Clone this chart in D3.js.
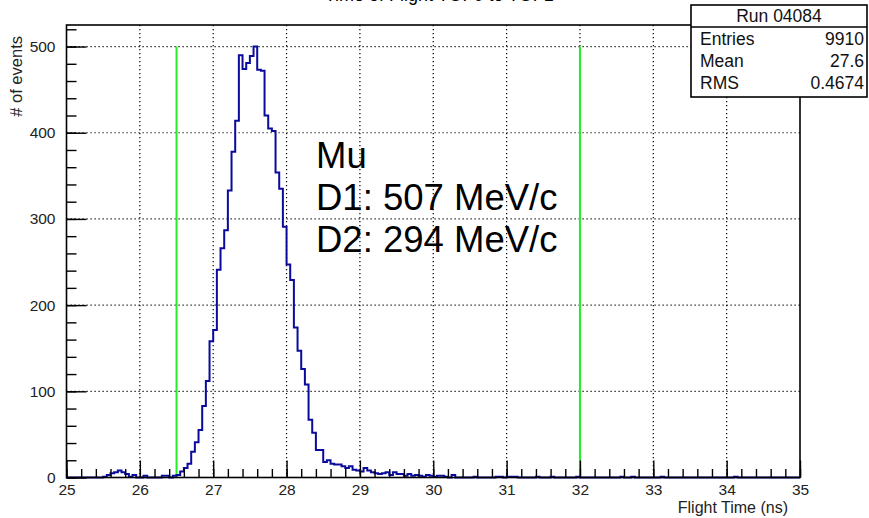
<!DOCTYPE html>
<html>
<head>
<meta charset="utf-8">
<script src="https://cdn.jsdelivr.net/npm/d3@7"></script>
<style>
  html, body { margin: 0; padding: 0; background: #fff; }
  svg { display: block; font-family: "Liberation Sans", Arial, Helvetica, sans-serif; }
</style>
</head>
<body>
<svg id="chart" width="869" height="518"></svg>
<script>
// ---- data ----
const xRange = [25, 35];          // flight time axis (ns)
const yRange = [0, 525];          // counts axis
const binWidth = 0.05;            // ns per bin, 200 bins
const counts = [
  0, 0, 0, 0, 0, 0, 0, 0, 0, 0,   1, 3, 5, 6, 8, 6, 4, 1, 3, 0,
  0, 2, 0, 0, 0, 0, 2, 2, 0, 2,   3, 7, 11, 16, 30, 41, 55, 83, 112, 158,
  171, 241, 266, 287, 333, 378, 414, 490, 474, 481,   489, 500, 473, 472, 420, 405, 402, 354, 335, 291,
  247, 229, 174, 147, 126, 108, 67, 52, 32, 32,   18, 20, 16, 15, 15, 13, 11, 13, 9, 8,
  7, 11, 8, 6, 5, 4, 5, 6, 3, 6,   4, 4, 2, 4, 2, 3, 2, 1, 3, 2,
  1, 2, 2, 1, 0, 3, 0, 0, 0, 0,   0, 1, 0, 0, 0, 0, 0, 1, 1, 0,
  1, 1, 1, 0, 0, 0, 0, 0, 1, 0,   0, 0, 1, 0, 0, 0, 0, 0, 0, 1,
  0, 0, 0, 0, 0, 0, 0, 0, 0, 0,   0, 1, 0, 0, 1, 0, 0, 0, 0, 0,
  0, 0, 1, 0, 0, 0, 0, 0, 0, 0,   0, 0, 0, 0, 0, 0, 0, 0, 0, 0,
  0, 0, 1, 0, 0, 0, 0, 0, 0, 0,   0, 0, 0, 0, 0, 0, 0, 0, 0, 0
];
const xMajorTicks = [25, 26, 27, 28, 29, 30, 31, 32, 33, 34, 35];
const xMinorTicks = d3.range(25, 35.001, 0.2);
const yMajorTicks = [0, 100, 200, 300, 400, 500];
const yMinorTicks = d3.range(0, 525, 20);
const cutTimes = [26.5, 32];      // selection window
const cutHeight = 500;
const titleText = "Time of Flight TOF0 to TOF1";
const xTitle = "Flight Time (ns)";
const yTitle = "# of events";
const statsTitle = "Run 04084";
const statsLabels = ["Entries", "Mean", "RMS"];
const statsValues = ["9910", "27.6", "0.4674"];
const noteLines = ["Mu", "D1: 507 MeV/c", "D2: 294 MeV/c"];

// ---- layout ----
const frame = { left: 66.5, right: 800, top: 25, bottom: 477.5 };
const svg = d3.select("#chart");

const x = d3.scaleLinear().domain(xRange).range([frame.left, frame.right]);
const y = d3.scaleLinear().domain(yRange).range([frame.bottom, frame.top]);

// title (sits at the very top edge of the canvas)
svg.append("text")
  .attr("x", (frame.left + frame.right) / 2 + 6)
  .attr("y", 0.5)
  .attr("text-anchor", "middle")
  .attr("font-size", 18)
  .attr("fill", "#000")
  .text(titleText);

// dotted grid at major ticks
const grid = svg.append("g")
  .attr("stroke", "#000")
  .attr("stroke-width", 1.2)
  .attr("stroke-dasharray", "1.2,2.8");
grid.selectAll("line.gx")
  .data(xMajorTicks.filter(t => t > xRange[0] && t < xRange[1]))
  .join("line")
  .attr("x1", d => x(d)).attr("x2", d => x(d))
  .attr("y1", frame.top).attr("y2", frame.bottom);
grid.selectAll("line.gy")
  .data(yMajorTicks.filter(t => t > yRange[0]))
  .join("line")
  .attr("x1", frame.left).attr("x2", frame.right)
  .attr("y1", d => y(d)).attr("y2", d => y(d));

// selection cut lines
svg.append("g").selectAll("line")
  .data(cutTimes)
  .join("line")
  .attr("x1", d => x(d)).attr("x2", d => x(d))
  .attr("y1", y(0)).attr("y2", y(cutHeight))
  .attr("stroke", "#22ee22")
  .attr("stroke-width", 2);

// histogram outline
const pts = counts.map((c, i) => [xRange[0] + i * binWidth, c]);
pts.push([xRange[1], counts[counts.length - 1]]);
const stair = d3.line()
  .x(d => x(d[0]))
  .y(d => y(d[1]))
  .curve(d3.curveStepAfter);
svg.append("path")
  .attr("d", stair(pts))
  .attr("fill", "none")
  .attr("stroke", "#0a0a9c")
  .attr("stroke-width", 2)
  .attr("stroke-linejoin", "miter");

// axes: ticks pointing into the frame
const fontTick = 15.5;
const xMinorAxis = d3.axisBottom(x).tickValues(xMinorTicks).tickSize(-8.5).tickFormat("").tickSizeOuter(0);
const xMajorAxis = d3.axisBottom(x).tickValues(xMajorTicks).tickSize(-17).tickPadding(6)
  .tickFormat(d3.format("d")).tickSizeOuter(0);
const yMinorAxis = d3.axisLeft(y).tickValues(yMinorTicks).tickSize(-10).tickFormat("").tickSizeOuter(0);
const yMajorAxis = d3.axisLeft(y).tickValues(yMajorTicks).tickSize(-20).tickPadding(11)
  .tickFormat(d3.format("d")).tickSizeOuter(0);

function styleAxis(g) {
  g.select(".domain").remove();
  g.selectAll(".tick line").attr("stroke", "#000").attr("stroke-width", 1.4);
  g.selectAll(".tick text").attr("font-size", fontTick).attr("fill", "#222")
    .attr("font-family", "Liberation Sans, Arial, sans-serif");
}
svg.append("g").attr("transform", `translate(0,${frame.bottom})`).call(xMinorAxis).call(styleAxis);
svg.append("g").attr("transform", `translate(0,${frame.bottom})`).call(xMajorAxis).call(styleAxis);
svg.append("g").attr("transform", `translate(${frame.left},0)`).call(yMinorAxis).call(styleAxis);
svg.append("g").attr("transform", `translate(${frame.left},0)`).call(yMajorAxis).call(styleAxis);

// frame box
svg.append("rect")
  .attr("x", frame.left).attr("y", frame.top)
  .attr("width", frame.right - frame.left)
  .attr("height", frame.bottom - frame.top)
  .attr("fill", "none")
  .attr("stroke", "#000")
  .attr("stroke-width", 1.6);

// particle / momentum note
svg.append("g").selectAll("text")
  .data(noteLines)
  .join("text")
  .attr("x", 316)
  .attr("y", (d, i) => 168 + i * 42)
  .attr("font-size", 36.5)
  .attr("fill", "#000")
  .text(d => d);

// axis titles
svg.append("text")
  .attr("x", frame.right - 12)
  .attr("y", 513)
  .attr("text-anchor", "end")
  .attr("font-size", 16)
  .attr("fill", "#222")
  .text(xTitle);
svg.append("text")
  .attr("transform", "translate(22,36) rotate(-90)")
  .attr("text-anchor", "end")
  .attr("font-size", 16.5)
  .attr("fill", "#222")
  .text(yTitle);

// statistics box
const box = { x: 691, y: 5, w: 176, h: 92, head: 22 };
const stats = svg.append("g");
stats.append("rect")
  .attr("x", box.x).attr("y", box.y).attr("width", box.w).attr("height", box.h)
  .attr("fill", "#fff").attr("stroke", "#000").attr("stroke-width", 1.6);
stats.append("line")
  .attr("x1", box.x).attr("x2", box.x + box.w)
  .attr("y1", box.y + box.head).attr("y2", box.y + box.head)
  .attr("stroke", "#000").attr("stroke-width", 1.6);
stats.append("text")
  .attr("x", box.x + box.w / 2).attr("y", 22)
  .attr("text-anchor", "middle").attr("font-size", 17.5).attr("fill", "#111")
  .text(statsTitle);
stats.selectAll("text.lab")
  .data(statsLabels)
  .join("text")
  .attr("class", "lab")
  .attr("x", 700).attr("y", (d, i) => 45 + i * 22)
  .attr("font-size", 17.5).attr("fill", "#111")
  .text(d => d);
stats.selectAll("text.val")
  .data(statsValues)
  .join("text")
  .attr("class", "val")
  .attr("x", 864).attr("y", (d, i) => 45 + i * 22)
  .attr("text-anchor", "end")
  .attr("font-size", 17.5).attr("fill", "#111")
  .text(d => d);
</script>
</body>
</html>
